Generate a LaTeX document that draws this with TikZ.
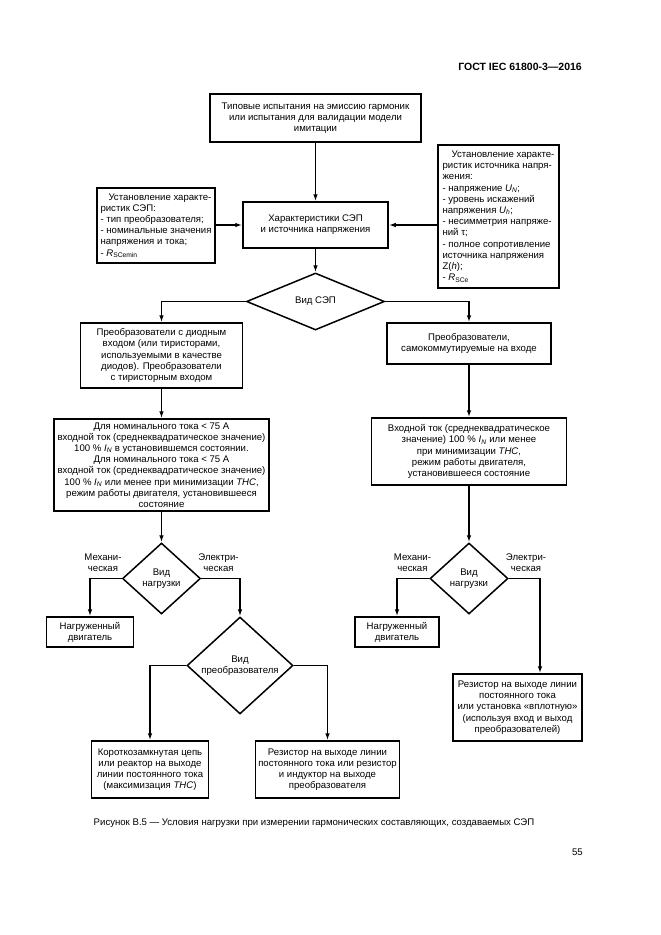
\documentclass[tikz,border=0pt]{standalone}
\usepackage{fontspec}
\setmainfont{Liberation Sans}
\usetikzlibrary{shapes.geometric,arrows.meta}
\newcommand{\mysub}[1]{\textsubscript{#1}}
\begin{document}
\begin{tikzpicture}[x=1pt,y=-1pt,
  every node/.style={font=\fontsize{9.6}{11.2}\selectfont},
  box/.style={draw, line width=1.5pt, align=center, inner sep=2pt},
  lbox/.style={draw, line width=1.5pt, align=left, inner sep=2pt},
  dia/.style={draw, diamond, line width=1.5pt, align=center, inner sep=0pt},
  arr/.style={line width=1.5pt, -{Latex[length=7pt,width=4.6pt]}},
  lbl/.style={align=center, inner sep=0pt}]
\fill[white] (0,0) rectangle (661,935);
\useasboundingbox (0,0) rectangle (661,935);

\node[anchor=east, inner sep=0pt, font=\fontsize{10.5}{12}\selectfont\bfseries] (hdr) at (582,67) {ГОСТ IEC 61800-3—2016};

\node[box, minimum width=211pt, minimum height=48pt] (top) at (315.5,118)
 {Типовые испытания на эмиссию гармоник\\или испытания для валидации модели\\имитации};
\node[box, minimum width=145pt, minimum height=46pt] (char) at (315.5,225)
 {Характеристики СЭП\\и источника напряжения};
\node[lbox, minimum width=118pt, minimum height=75pt] (lsrc) at (156,225.5)
 {\hspace*{8pt}Установление характе-\\ристик СЭП:\\- тип преобразователя;\\- номинальные значения\\напряжения и тока;\\- \textit{R}\mysub{SCemin}};
\node[lbox, minimum width=121pt, minimum height=143pt] (rsrc) at (498.5,216.5)
 {\hspace*{9pt}Установление характе-\\ристик источника напря-\\жения:\\- напряжение \textit{U}\mysub{\textit{N}};\\- уровень искажений\\напряжения \textit{U}\mysub{\textit{h}};\\- несимметрия напряже-\\ний τ;\\- полное сопротивление\\источника напряжения\\Z(\textit{h});\\- \textit{R}\mysub{SCe}};

\node[dia, minimum width=138pt, minimum height=57pt] (dsep) at (315.5,301.5) {Вид СЭП};

\node[box, minimum width=162pt, minimum height=65pt] (b3l) at (161.5,355.5)
 {Преобразователи с диодным\\входом (или тиристорами,\\используемыми в качестве\\диодов). Преобразователи\\с тиристорным входом};
\node[box, minimum width=164pt, minimum height=41pt] (b3r) at (469,343.5)
 {Преобразователи,\\самокоммутируемые на входе};

\node[box, minimum width=215pt, minimum height=92pt] (b4l) at (161.5,465)
 {Для номинального тока < 75 А\\входной ток (среднеквадратическое значение)\\100 \% \textit{I}\mysub{\textit{N}} в установившемся состоянии.\\Для номинального тока < 75 А\\входной ток (среднеквадратическое значение)\\100 \% \textit{I}\mysub{\textit{N}} или менее при минимизации \textit{THC},\\режим работы двигателя, установившееся\\состояние};
\node[box, minimum width=195pt, minimum height=67pt] (b4r) at (469,451.5)
 {Входной ток (среднеквадратическое\\значение) 100 \% \textit{I}\mysub{\textit{N}} или менее\\при минимизации \textit{THC},\\режим работы двигателя,\\установившееся состояние};

\node[dia, minimum width=78pt, minimum height=71pt] (dll) at (161.5,578.5) {Вид\\нагрузки};
\node[dia, minimum width=78pt, minimum height=71pt] (dlr) at (469,578.5) {Вид\\нагрузки};

\node[lbl, anchor=east] (mechl) at ([yshift=15.5pt]dll.west) {Механи-\\ческая};
\node[lbl, anchor=west] (elecl) at ([yshift=15.5pt,xshift=-3pt]dll.east) {Электри-\\ческая};
\node[lbl, anchor=east] (mechr) at ([yshift=15.5pt,xshift=2pt]dlr.west) {Механи-\\ческая};
\node[lbl, anchor=west] (elecr) at ([yshift=15.5pt,xshift=-3pt]dlr.east) {Электри-\\ческая};

\node[box, minimum width=87pt, minimum height=30pt] (ngl) at (90,632) {Нагруженный\\двигатель};
\node[box, minimum width=84pt, minimum height=30pt] (ngr) at (397,632) {Нагруженный\\двигатель};

\node[dia, minimum width=106pt, minimum height=73pt] (dconv) at (240,665.5) {Вид\\преобразователя};

\node[box, minimum width=117pt, minimum height=57pt] (kz) at (150,769.5)
 {Короткозамкнутая цепь\\или реактор на выходе\\линии постоянного тока\\(максимизация \textit{THC})};
\node[box, minimum width=144pt, minimum height=57pt] (res) at (327.5,769.5)
 {Резистор на выходе линии\\постоянного тока или резистор\\и индуктор на выходе\\преобразователя};
\node[box, minimum width=129pt, minimum height=67pt] (resr) at (517.5,707.5)
 {Резистор на выходе линии\\постоянного тока\\или установка «вплотную»\\(используя вход и выход\\преобразователей)};

\node[inner sep=0pt] (cap) at (314,823)
 {Рисунок В.5 — Условия нагрузки при измерении гармонических составляющих, создаваемых СЭП};
\node[anchor=east, inner sep=0pt] (pg) at (583,852) {55};

\draw[arr] (top) -- (char);
\draw[arr] (lsrc.east |- char.west) -- (char.west);
\draw[arr] (rsrc.west |- char.east) -- (char.east);
\draw[arr] (char) -- (dsep);
\draw[arr] (dsep.west) -| (b3l.north);
\draw[arr] (dsep.east) -| (b3r.north);
\draw[arr] (b3l) -- (b4l);
\draw[arr] (b3r) -- (b4r);
\draw[arr] (b4l.south) -- (dll.north);
\draw[arr] (b4r.south) -- (dlr.north);
\draw[arr] (dll.west) -| (ngl.north);
\draw[arr] (dll.east) -| (dconv.north);
\draw[arr] (dlr.west) -| (ngr.north);
\draw[arr] (dlr.east) -| ([xshift=22.5pt]resr.north);
\draw[arr] (dconv.west) -| (kz.north);
\draw[arr] (dconv.east) -| (res.north);
\end{tikzpicture}
\end{document}
